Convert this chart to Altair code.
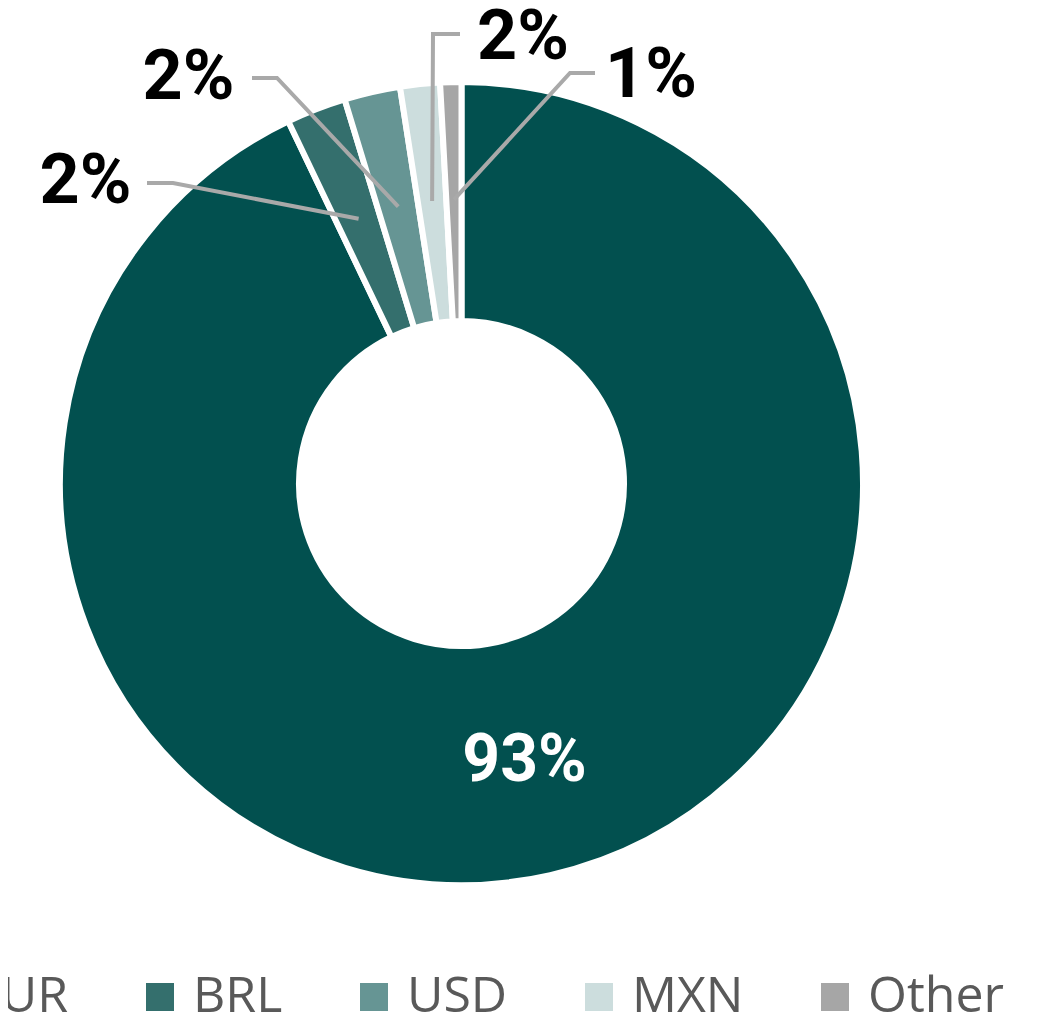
import math
import altair as alt
import pandas as pd

# ---- data ----
categories = ["EUR", "BRL", "USD", "MXN", "Other"]
shares = [92.9, 2.4, 2.25, 1.6, 0.85]

# ---- styles / layout ----
colors = ["#02504f", "#346f6d", "#669594", "#ccdddd", "#a6a6a6"]
CX, CY = 453.5, 475.5          # donut centre (view pixels)
R_OUT, R_IN = 401.5, 162.5
LEADER_R = 284                 # radius where leader lines end inside slices
INNER_LABEL_R = 285
label_xy = {"BRL": (77.5, 174), "USD": (180.5, 69.5), "MXN": (515, 29.5), "Other": (643, 68)}
leader_start = {"BRL": (139, 175), "USD": (244, 70), "MXN": (452, 26), "Other": (587, 65)}
leader_bend = {"BRL": (165, 175), "USD": (269, 70), "MXN": (425, 26), "Other": (562, 65)}

df = pd.DataFrame({"category": categories, "share": shares, "idx": range(len(categories))})

total = sum(shares)
cum = 0.0
mid_angle = {}
for c, v in zip(categories, shares):
    mid_angle[c] = (cum + v / 2) / total * 2 * math.pi
    cum += v


def polar(r, a):
    return CX + r * math.sin(a), CY - r * math.cos(a)


# leader lines
rows = []
for c in categories[1:]:
    ex, ey = polar(LEADER_R, mid_angle[c])
    pts = [leader_start[c], leader_bend[c], (ex, ey)]
    for i, (px, py) in enumerate(pts):
        rows.append({"category": c, "seq": i, "px": px, "py": py})
ldf = pd.DataFrame(rows)

# labels
lab_rows = []
for c, v in zip(categories, shares):
    txt = f"{round(v)}%"
    if c == "EUR":
        x, y = polar(INNER_LABEL_R, mid_angle[c])
        lab_rows.append({"category": c, "txt": txt, "px": x, "py": y, "inner": 1})
    else:
        x, y = label_xy[c]
        lab_rows.append({"category": c, "txt": txt, "px": x, "py": y, "inner": 0})
tdf = pd.DataFrame(lab_rows)

arcs = alt.Chart(df).mark_arc(
    outerRadius=R_OUT, innerRadius=R_IN, stroke="white", strokeWidth=6
).encode(
    theta=alt.Theta("share:Q", stack=True),
    color=alt.Color(
        "category:N",
        scale=alt.Scale(domain=categories, range=colors),
        sort=categories,
        legend=alt.Legend(
            orient="none",
            legendX=-93,
            legendY=964,
            direction="horizontal",
            title=None,
            symbolType="square",
            symbolSize=784,
            symbolStrokeWidth=0,
            labelFont="Open Sans",
            labelFontSize=50,
            labelColor="#595959",
            labelOffset=8,
            columnPadding=66,
            padding=0,
            labelLimit=400,
        ),
    ),
    order=alt.Order("idx:Q"),
    x=alt.value(CX),
    y=alt.value(CY),
)

lines = alt.Chart(ldf).mark_line(color="#a9a9a9", strokeWidth=4).encode(
    x=alt.X("px:Q", scale=None, axis=None),
    y=alt.Y("py:Q", scale=None, axis=None),
    detail="category:N",
    order="seq:Q",
)

outer_text = alt.Chart(tdf).transform_filter("datum.inner == 0").mark_text(
    font="Roboto", fontWeight="bold", fontSize=70, color="#000000",
    align="center", baseline="middle",
).encode(
    x=alt.X("px:Q", scale=None, axis=None),
    y=alt.Y("py:Q", scale=None, axis=None),
    text="txt:N",
)

inner_text = alt.Chart(tdf).transform_filter("datum.inner == 1").mark_text(
    font="Roboto", fontWeight="bold", fontSize=66, color="#ffffff",
    align="center", baseline="middle",
).encode(
    x=alt.X("px:Q", scale=None, axis=None),
    y=alt.Y("py:Q", scale=None, axis=None),
    text="txt:N",
)

chart = alt.layer(arcs, lines, outer_text, inner_text).properties(
    width=1045, height=1011,
    autosize=alt.AutoSizeParams(type="none"),
    padding=0,
    background="white",
).configure_view(stroke=None)

chart.save("out.html", embed_options={"renderer": "svg", "actions": False})
